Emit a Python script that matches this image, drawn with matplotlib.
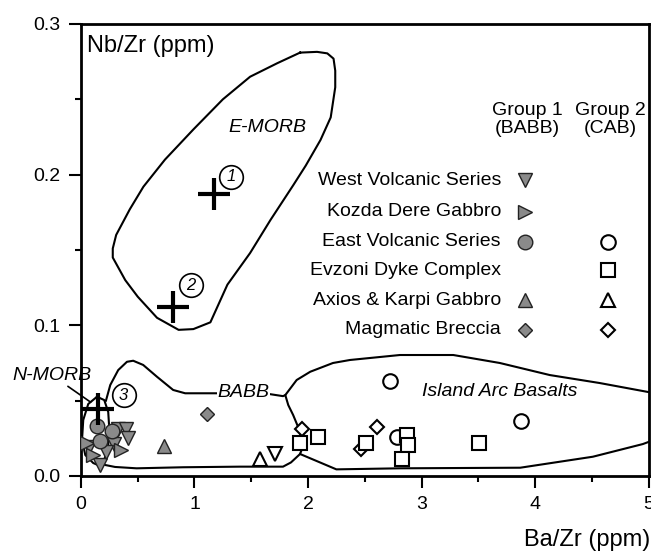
"""
Nb/Zr vs Ba/Zr discrimination plot
"""

import numpy as np
import matplotlib
matplotlib.use("Agg")
import matplotlib.pyplot as plt
from matplotlib.ticker import MultipleLocator, FormatStrFormatter

plt.rcParams["font.family"] = ["Liberation Sans", "DejaVu Sans"]

# field outlines (Ba/Zr, Nb/Zr)
emorb_x = [1.93, 2.08, 2.17, 2.225, 2.24, 2.24, 2.20, 2.11, 1.98, 1.87, 1.67, 1.49,
           1.29, 1.14, 0.99, 0.86, 0.67, 0.50, 0.39, 0.28, 0.28, 0.31, 0.43, 0.55,
           0.74, 0.99, 1.25, 1.49, 1.73, 1.93]
emorb_y = [0.281, 0.2815, 0.2805, 0.277, 0.269, 0.258, 0.238, 0.223, 0.206, 0.193,
           0.170, 0.148, 0.127, 0.102, 0.0975, 0.097, 0.105, 0.119, 0.130, 0.145,
           0.151, 0.160, 0.177, 0.192, 0.210, 0.230, 0.250, 0.265, 0.274, 0.281]

nmorb_x = [0.141, 0.205, 0.240, 0.249, 0.240, 0.205, 0.170, 0.108, 0.038, 0.009,
           0.020, 0.064, 0.141]
nmorb_y = [0.0526, 0.0504, 0.0425, 0.0318, 0.0206, 0.0106, 0.0066, 0.0086, 0.0139,
           0.0239, 0.0372, 0.0478, 0.0526]

babb_x = [0.22, 0.258, 0.328, 0.405, 0.460, 0.548, 0.669, 0.812, 0.918, 1.20, 1.65,
          1.78, 1.80, 1.826, 1.869, 1.913, 1.945, 1.957, 1.93, 1.85, 1.78, 1.40,
          0.90, 0.49, 0.30, 0.20]
babb_y = [0.050, 0.0604, 0.0703, 0.0758, 0.0765, 0.0737, 0.0659, 0.0571, 0.0549,
          0.0549, 0.0545, 0.0530, 0.0537, 0.0471, 0.0405, 0.0325, 0.0245, 0.0199,
          0.0146, 0.0090, 0.0062, 0.0062, 0.0058, 0.0051, 0.0060, 0.0075]

iab_x = [1.80, 1.90, 2.02, 2.22, 2.37, 2.81, 3.28, 3.69, 4.13, 4.57, 5.0]
iab_y = [0.0537, 0.0637, 0.0692, 0.0750, 0.0770, 0.0803, 0.0803, 0.0750, 0.0670,
         0.0617, 0.0557]
iab_bx = [1.93, 2.25, 2.81, 3.87, 4.51, 4.95, 5.0]
iab_by = [0.0146, 0.0044, 0.0051, 0.0055, 0.0128, 0.0212, 0.0226]

# reference compositions: 1 E-MORB, 2, 3 N-MORB
ref_x = [1.17, 0.815, 0.15]
ref_y = [0.187, 0.112, 0.0443]
ref_lbl = ["1", "2", "3"]
ref_lx = [1.32, 0.968, 0.375]
ref_ly = [0.1986, 0.1267, 0.0537]

# Group 1 (BABB)
wvs1_x = [0.33, 0.40, 0.41, 0.29, 0.07, 0.17, 0.22]
wvs1_y = [0.031, 0.031, 0.025, 0.021, 0.019, 0.0073, 0.016]
kdg1_x = [0.35, 0.11, 0.05]
kdg1_y = [0.017, 0.014, 0.022]
evs1_x = [0.14, 0.27, 0.17]
evs1_y = [0.033, 0.030, 0.023]
akg1_x = [0.73]
akg1_y = [0.020]
mb1_x = [1.11]
mb1_y = [0.041]

# Group 2 (CAB)
wvs2_x = [1.71]
wvs2_y = [0.0146]
evs2_x = [2.72, 3.88, 2.78]
evs2_y = [0.0632, 0.0365, 0.0261]
edc2_x = [1.93, 2.09, 2.51, 2.87, 2.88, 2.83, 3.51]
edc2_y = [0.0217, 0.0257, 0.0221, 0.0272, 0.0206, 0.0111, 0.0217]
akg2_x = [1.58]
akg2_y = [0.0111]
mb2_x = [1.95, 2.61, 2.47]
mb2_y = [0.031, 0.0327, 0.0177]

legend_names = ["West Volcanic Series", "Kozda Dere Gabbro", "East Volcanic Series",
                "Evzoni Dyke Complex", "Axios & Karpi Gabbro", "Magmatic Breccia"]
legend_g1 = ["v", ">", "o", None, "^", "D"]
legend_g2 = [None, None, "o", "s", "^", "D"]

gray = "#8a8a8a"
sizes = {"v": 10, ">": 10, "o": 10.5, "s": 10.5, "^": 10, "D": 7.5}

fig = plt.figure(figsize=(6.51, 5.54), dpi=100)
ax = fig.add_axes([0.1244, 0.1408, 0.8718, 0.8159])

# fields
ax.plot(emorb_x, emorb_y, color="black", lw=1.5)
ax.plot(nmorb_x, nmorb_y, color="black", lw=1.5)
ax.plot(babb_x, babb_y, color="black", lw=1.5)
ax.plot(iab_x, iab_y, color="black", lw=1.5)
ax.plot(iab_bx, iab_by, color="black", lw=1.5)

ax.text(1.64, 0.2316, "E-MORB", style="italic", fontsize=14, ha="center", va="center")
ax.text(1.43, 0.0553, "BABB", style="italic", fontsize=14, ha="center", va="center",
        bbox=dict(fc="white", ec="none", pad=0.5))
ax.text(3.69, 0.0559, "Island Arc Basalts", style="italic", fontsize=14,
        ha="center", va="center")
ax.annotate("N-MORB", xy=(0.085, 0.049), xytext=(-0.255, 0.067), style="italic",
            fontsize=14, ha="center", va="center", annotation_clip=False,
            arrowprops=dict(arrowstyle="-", color="black", lw=1.2,
                            shrinkA=0, shrinkB=0, relpos=(0.65, 0.0)))

# reference crosses and numbered circles
ax.plot(ref_x, ref_y, "+", color="black", ms=23, mew=3, zorder=6)
ax.plot(ref_lx, ref_ly, "o", mfc="none", mec="black", ms=17, mew=1.2, zorder=6)
for lx, ly, t in zip(ref_lx, ref_ly, ref_lbl):
    ax.text(lx, ly, t, style="italic", fontsize=12, ha="center", va="center", zorder=7)

# group 2 open symbols
open_kw = dict(ls="none", mfc="white", mec="black", mew=1.5, zorder=4)
ax.plot(mb2_x, mb2_y, "D", ms=sizes["D"], **open_kw)
ax.plot(evs2_x, evs2_y, "o", ms=sizes["o"], **open_kw)
ax.plot(edc2_x, edc2_y, "s", ms=sizes["s"], **open_kw)
ax.plot(akg2_x, akg2_y, "^", ms=sizes["^"], **open_kw)
ax.plot(wvs2_x, wvs2_y, "v", ms=sizes["v"], **open_kw)

# group 1 gray symbols
fill_kw = dict(ls="none", mfc=gray, mec="#222222", mew=1.0, zorder=5)
ax.plot(wvs1_x, wvs1_y, "v", ms=sizes["v"], **fill_kw)
ax.plot(kdg1_x, kdg1_y, ">", ms=sizes[">"], **fill_kw)
ax.plot(evs1_x, evs1_y, "o", ms=sizes["o"], **fill_kw)
ax.plot(akg1_x, akg1_y, "^", ms=sizes["^"], **fill_kw)
ax.plot(mb1_x, mb1_y, "D", ms=sizes["D"], **fill_kw)

# hand-made key
key_y = [0.1964, 0.1754, 0.1555, 0.1367, 0.1168, 0.0969]
ax.text(3.93, 0.2365, "Group 1\n(BABB)", fontsize=14, ha="center", va="center",
        linespacing=1.05)
ax.text(4.66, 0.2365, "Group 2\n(CAB)", fontsize=14, ha="center", va="center",
        linespacing=1.05)
for name, m1, m2, ky in zip(legend_names, legend_g1, legend_g2, key_y):
    ax.text(3.70, ky, name, fontsize=14, ha="right", va="center")
    if m1:
        ax.plot(3.91, ky, m1, ms=sizes[m1], mfc=gray, mec="#222222", mew=1.0)
    if m2:
        ax.plot(4.645, ky, m2, ms=sizes[m2], mfc="white", mec="black", mew=1.5)

ax.set_xlim(0, 5)
ax.set_ylim(0, 0.3)
ax.xaxis.set_major_locator(MultipleLocator(1))
ax.xaxis.set_minor_locator(MultipleLocator(0.5))
ax.yaxis.set_major_locator(MultipleLocator(0.1))
ax.yaxis.set_minor_locator(MultipleLocator(0.05))
ax.yaxis.set_major_formatter(FormatStrFormatter("%.1f"))
ax.tick_params(which="major", direction="out", length=8.5, width=1.5, pad=6,
               labelsize=14)
ax.tick_params(which="minor", direction="out", length=4.5, width=1.5)
for s in ax.spines.values():
    s.set_linewidth(2)

ax.text(0.011, 0.951, "Nb/Zr (ppm)", transform=ax.transAxes, fontsize=17,
        ha="left", va="center")
ax.text(1.003, -0.1416, "Ba/Zr (ppm)", transform=ax.transAxes, fontsize=17,
        ha="right", va="center")

fig.savefig("out.png", dpi=100)
